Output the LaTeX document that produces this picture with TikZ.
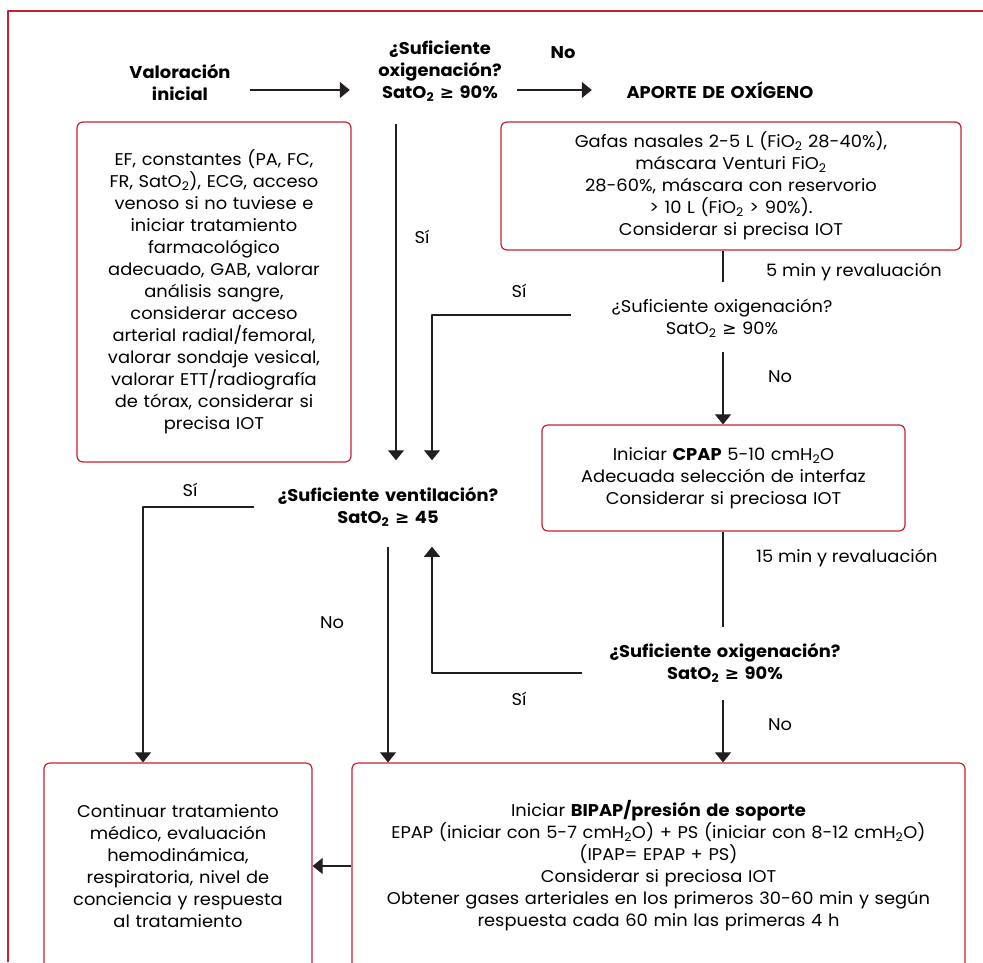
\documentclass[tikz,border=0pt]{standalone}
\usepackage{fontspec}
\setmainfont{Poppins}[FakeStretch=1.05]
\newfontfamily\simbolo{DejaVu Sans}
\usetikzlibrary{arrows.meta}
\definecolor{rojo}{RGB}{200,32,48}
\definecolor{gris}{RGB}{35,31,32}
\newcommand{\dos}{\textsubscript{2}}
\newcommand{\mayorig}{{\simbolo ≥}}

\begin{document}
\begin{tikzpicture}[x=1pt, y=-1pt, font=\fontsize{17}{22}\selectfont, line join=round,
	negrita/.style={font=\fontsize{17}{22}\selectfont\bfseries},
	caja/.style={draw=rojo, line width=1.2pt, rounded corners=6pt, align=center, inner sep=0pt},
	texto/.style={align=center, inner sep=0pt},
	trazo/.style={draw=gris, line width=1.1pt},
	flecha/.style={draw=gris, line width=1.1pt, -{Triangle[width=16pt,length=10pt]}}]
	\useasboundingbox (0,0) rectangle (983,962);
	% Marco
	\draw[rojo, line width=1.2pt] (8,962) -- (8,11) -- (983,11);
	% Carriles
	\coordinate (filaA) at (0,90);
	\coordinate (carrilA) at (396,0);
	\coordinate (carrilB) at (432,0);
	\coordinate (carrilC) at (723,0);
	\coordinate (carrilD) at (143,0);
	% Preguntas y titulos
	\node[texto, negrita, text width=110pt] (val) at (180,82) {Valoración\\inicial};
	\node[texto, negrita, text width=140pt] (q1) at (440,71) {¿Suficiente\\oxigenación?\\SatO\dos{} \mayorig{} 90\%};
	\node[texto, negrita, text width=220pt] (aporte) at (720,90) {APORTE DE OXÍGENO};
	\node[texto, text width=240pt] (q2) at (722,318) {¿Suficiente oxigenación?\\SatO\dos{} \mayorig{} 90\%};
	\node[texto, negrita, text width=250pt] (q3) at (725,663) {¿Suficiente oxigenación?\\SatO\dos{} \mayorig{} 90\%};
	\node[texto, negrita, text width=240pt] (vent) at (388,507) {¿Suficiente ventilación?\\SatO\dos{} \mayorig{} 45};
	% Cajas
	\node[caja, minimum width=274pt, minimum height=340pt, text width=260pt] (eval) at (214,292) {EF, constantes (PA, FC,\\FR, SatO\dos), ECG, acceso\\venoso si no tuviese e\\iniciar tratamiento\\farmacológico\\adecuado, GAB, valorar\\análisis sangre,\\considerar acceso\\arterial radial/femoral,\\valorar sondaje vesical,\\valorar ETT/radiografía\\de tórax, considerar si\\precisa IOT};
	\node[caja, minimum width=460pt, minimum height=128pt, text width=440pt] (o2) at (731,186) {Gafas nasales 2-5 L (FiO\dos{} 28-40\%),\\máscara Venturi FiO\dos\\28-60\%, máscara con reservorio\\> 10 L (FiO\dos{} > 90\%).\\Considerar si precisa IOT};
	\node[caja, minimum width=363pt, minimum height=106pt, text width=340pt] (cpap) at (723.5,478) {Iniciar \textbf{CPAP} 5-10 cmH\dos O\\Adecuada selección de interfaz\\Considerar si preciosa IOT};
	\node[caja, minimum width=268pt, minimum height=206pt, text width=260pt] (cont) at (178,866) {Continuar tratamiento\\médico, evaluación\\hemodinámica,\\respiratoria, nivel de\\conciencia y respuesta\\al tratamiento};
	\node[caja, minimum width=613pt, minimum height=206pt, text width=610pt] (bipap) at (658.5,866) {Iniciar \textbf{BIPAP/presión de soporte}\\EPAP (iniciar con 5-7 cmH\dos O) + PS (iniciar con 8-12 cmH\dos O)\\(IPAP= EPAP + PS)\\Considerar si preciosa IOT\\Obtener gases arteriales en los primeros 30-60 min y según\\respuesta cada 60 min las primeras 4 h};
	% Etiquetas
	\node[texto, negrita] (no1) at (563,53) {No};
	\node[texto] (si1) at (422,237) {Sí};
	\node[texto] (t5) at (854,272) {5 min y revaluación};
	\node[texto] (si2) at (519,291) {Sí};
	\node[texto] (no2) at (780,377) {No};
	\node[texto] (t15) at (847,558) {15 min y revaluación};
	\node[texto] (si3) at (519,699) {Sí};
	\node[texto] (no3) at (780,725) {No};
	\node[texto] (si4) at (190,490) {Sí};
	\node[texto] (no4) at (332,623) {No};
	% Conectores
	\draw[flecha, shorten <=15pt, shorten >=20pt] (val.east |- filaA) -- (q1.west |- filaA);
	\draw[flecha, shorten <=7pt, shorten >=18pt] (q1.east |- filaA) -- (aporte.west |- filaA);
	\draw[flecha, shorten <=23pt, shorten >=27pt] (q1.south -| carrilA) -- (vent.north -| carrilA);
	\draw[trazo, shorten >=17pt] (o2.south -| carrilC) -- (q2.north -| carrilC);
	\draw[flecha, shorten <=15pt] (q2.south -| carrilC) -- (cpap.north -| carrilC);
	\draw[flecha, shorten <=31pt, shorten >=27pt] ([yshift=3pt]q2.west) -| (vent.north -| carrilB);
	\draw[trazo, shorten >=16pt] (cpap.south -| carrilC) -- (q3.north -| carrilC);
	\draw[flecha, shorten <=17pt] (q3.south -| carrilC) -- (bipap.north -| carrilC);
	\draw[flecha, shorten <=18pt, shorten >=20pt] ([yshift=-10pt]q3.west) -| (vent.south -| carrilB);
	\draw[flecha, shorten <=20pt] (vent.south) -- (bipap.north -| vent.south);
	\draw[flecha, shorten <=14pt] (vent.west) -| (cont.north -| carrilD);
	\draw[flecha] (bipap.west) -- (cont.east);
\end{tikzpicture}
\end{document}
